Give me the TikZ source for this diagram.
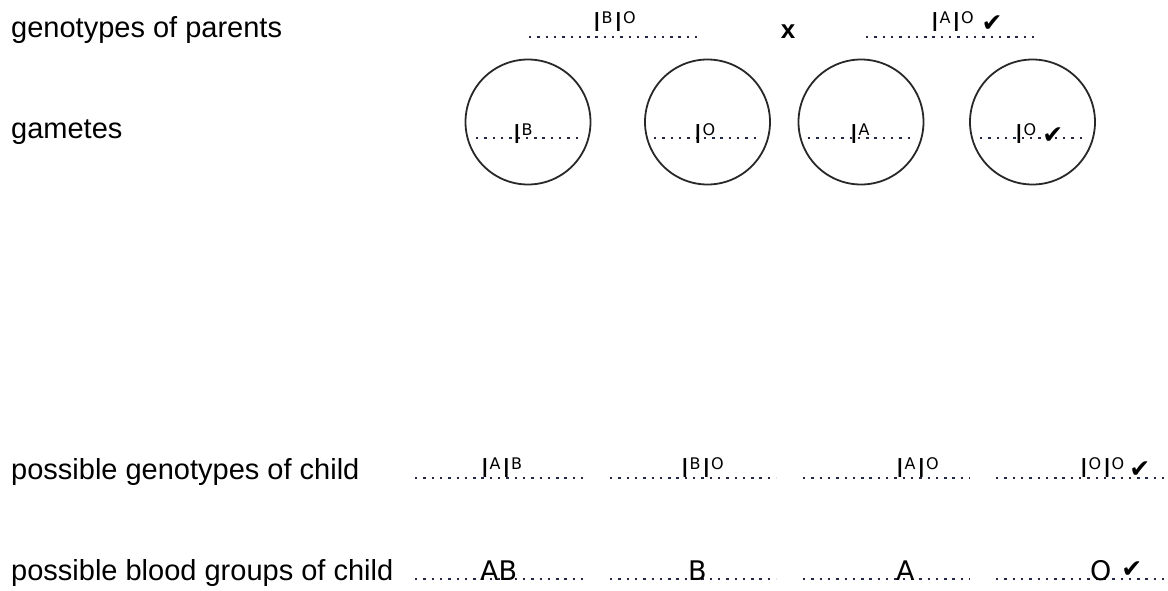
\documentclass[tikz,border=0pt]{standalone}
\usepackage{fontspec}
\setmainfont{Liberation Sans}
\newfontfamily\hand{DejaVu Sans}
\newcommand\allele[1]{{\fontsize{26}{26}\selectfont I}\kern0.8pt\raisebox{7.5pt}{\fontsize{16}{16}\selectfont #1}}
\newcommand\tick{{\fontsize{25}{25}\selectfont ✔}}
\tikzset{
  lbl/.style={anchor=base west, inner sep=0pt, font=\fontsize{29}{34}\selectfont},
  hw/.style={anchor=base west, inner sep=0pt, font=\hand},
  hwbig/.style={anchor=base west, inner sep=0pt, font=\hand\fontsize{27}{27}\selectfont},
  dotline/.style={line width=2.4pt, dash pattern=on 2.4pt off 5.9pt, draw={rgb,255:red,35;green,40;blue,70}},
  gam/.style={circle, draw={rgb,255:red,40;green,40;blue,40}, line width=1.8pt, minimum size=125pt, inner sep=0pt}
}
\begin{document}
\begin{tikzpicture}[x=1pt,y=-1pt]
\fill[white] (0,0) rectangle (1168,590);
\useasboundingbox (0,0) rectangle (1168,590);

% row labels
\node[lbl] (lgp)  at (11,37)  {genotypes of parents};
\node[lbl] (lgam) at (11,138) {gametes};
\node[lbl] (lpgc) at (11,479) {possible genotypes of child};
\node[lbl] (lpbc) at (11,580) {possible blood groups of child};

% parents
\draw[dotline] (529,37) -- (698,37);
\draw[dotline] (866,37) -- (1034,37);
\node[hw] (p1) at (593,31) {\allele{B}\kern2pt\allele{O}};
\node[anchor=base, inner sep=0pt, font=\bfseries\fontsize{26}{26}\selectfont] (cross) at (788,38) {x};
\node[hw] (p2) at (931,31) {\allele{A}\kern2pt\allele{O}\kern8pt\tick};

% gametes
\node[gam] (g1) at (528,122) {};
\node[gam] (g2) at (707.5,122) {};
\node[gam] (g3) at (861,122) {};
\node[gam] (g4) at (1032.5,122) {};
\draw[dotline] (476,138) -- (578,138);
\draw[dotline] (654,138) -- (758,138);
\draw[dotline] (808,138) -- (910,138);
\draw[dotline] (980,138) -- (1082,138);
\node[hw] (a1) at (513,143) {\allele{B}};
\node[hw] (a2) at (694,143) {\allele{O}};
\node[hw] (a3) at (850,143) {\allele{A}};
\node[hw] (a4) at (1015,143) {\allele{O}\kern6pt\tick};

% possible genotypes of child
\draw[dotline] (415,478) -- (583,478);
\draw[dotline] (610,478) -- (776,478);
\draw[dotline] (803,478) -- (970,478);
\draw[dotline] (996,478) -- (1166,478);
\node[hw] (c1) at (481,477) {\allele{A}\kern2pt\allele{B}};
\node[hw] (c2) at (681,477) {\allele{B}\kern2pt\allele{O}};
\node[hw] (c3) at (896,477) {\allele{A}\kern2pt\allele{O}};
\node[hw] (c4) at (1080,477) {\allele{O}\kern2pt\allele{O}\kern5pt\tick};

% possible blood groups of child
\draw[dotline] (415,579) -- (583,579);
\draw[dotline] (610,579) -- (776,579);
\draw[dotline] (803,579) -- (970,579);
\draw[dotline] (996,579) -- (1166,579);
\node[hwbig] (b1) at (480,580) {AB};
\node[hwbig] (b2) at (688,580) {B};
\node[hwbig] (b3) at (896,580) {A};
\node[hwbig] (b4) at (1090,580) {O\kern10pt\raisebox{3pt}{\tick}};
\end{tikzpicture}
\end{document}
